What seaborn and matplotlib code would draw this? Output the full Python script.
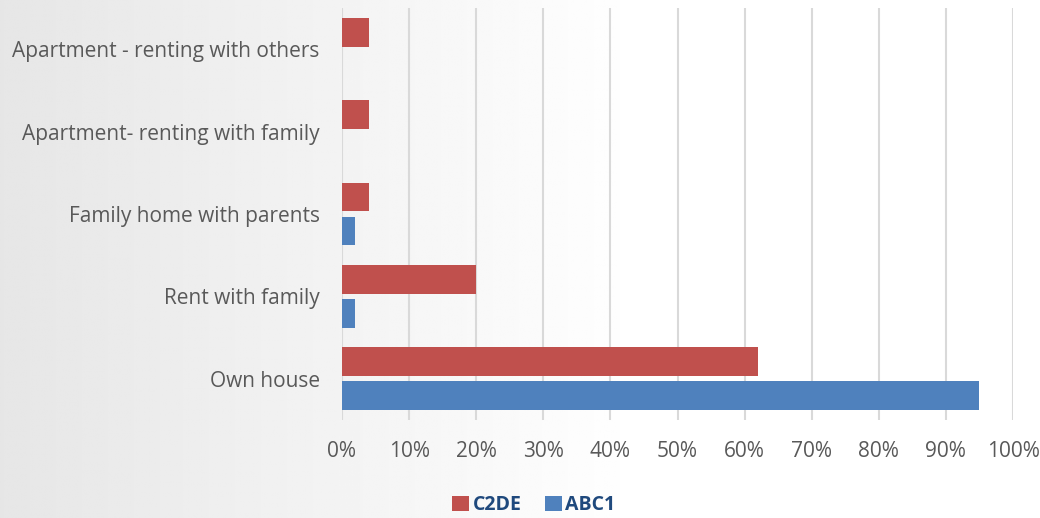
import numpy as np
import pandas as pd
import matplotlib
matplotlib.use("Agg")
import matplotlib.pyplot as plt
from matplotlib.patches import Patch
import seaborn as sns

categories = [
    "Apartment - renting with others",
    "Apartment- renting with family",
    "Family home with parents",
    "Rent with family",
    "Own house",
]
c2de = [4, 4, 4, 20, 62]
abc1 = [0, 0, 2, 2, 95]
series = ["C2DE", "ABC1"]
palette = {"C2DE": "#C0504D", "ABC1": "#4F81BD"}
xticks = [0, 10, 20, 30, 40, 50, 60, 70, 80, 90, 100]

df = pd.DataFrame({
    "category": categories * 2,
    "group": ["C2DE"] * len(categories) + ["ABC1"] * len(categories),
    "share": c2de + abc1,
})

sns.set_theme(style="white")
plt.rcParams["font.family"] = ["Open Sans", "DejaVu Sans"]

W, H = 1040, 518
fig = plt.figure(figsize=(W / 100, H / 100), dpi=100)

# soft grey-to-white background wash
bg = fig.add_axes([0, 0, 1, 1], zorder=-10)
xs = np.linspace(0, 1, 400)
vals = np.clip(230 + (255 - 230) * xs / 0.62, 0, 255) / 255.0
grad = np.tile(vals, (50, 1))
bg.imshow(grad, cmap="gray", vmin=0, vmax=1, aspect="auto", extent=[0, 1, 0, 1])
bg.set_axis_off()

ax = fig.add_axes([342 / W, 1 - 420 / H, (1013 - 342) / W, (420 - 8) / H])
ax.set_facecolor("none")

sns.barplot(
    data=df, y="category", x="share", hue="group", order=categories,
    hue_order=series, palette=palette, orient="h", width=0.825, gap=0.15,
    saturation=1, legend=False, ax=ax, zorder=3, linewidth=0,
)

ax.set_xlim(0, 100)
ax.set_ylim(len(categories) - 0.5, -0.5)
ax.set_xticks(xticks)
ax.set_xticklabels([f"{v}%" for v in xticks])
ax.set_xlabel("")
ax.set_ylabel("")
ax.grid(axis="x", color="#d9d9d9", linewidth=1.5, zorder=0)
ax.grid(axis="y", visible=False)
for s in ["top", "right", "bottom", "left"]:
    ax.spines[s].set_visible(False)
ax.tick_params(axis="x", length=0, pad=15, labelsize=15, labelcolor="#595959")
ax.tick_params(axis="y", length=0, pad=16, labelsize=15, labelcolor="#595959")

handles = [Patch(facecolor=palette[s], edgecolor="none") for s in series]
leg = fig.legend(
    handles, series, loc="center", bbox_to_anchor=(534 / W, 1 - 505 / H),
    ncol=2, frameon=False, handlelength=0.85, handleheight=0.85,
    handletextpad=0.2, columnspacing=1.2,
    prop={"size": 14, "weight": "bold"},
)
for t in leg.get_texts():
    t.set_color("#1F497D")

fig.savefig("out.png", dpi=100)
